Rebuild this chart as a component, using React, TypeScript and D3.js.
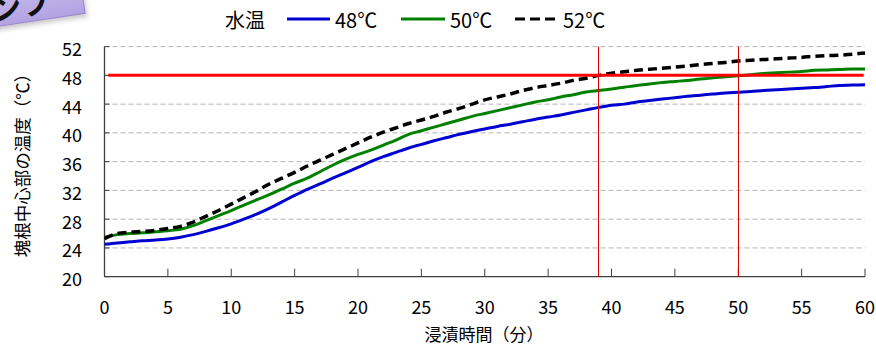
import React, { useEffect } from "react";
import * as d3 from "d3";

const minutes: number[] = d3.range(0, 61);
const xTicks: number[] = [0, 5, 10, 15, 20, 25, 30, 35, 40, 45, 50, 55, 60];
const yTicks: number[] = [20, 24, 28, 32, 36, 40, 44, 48, 52];

const s48: number[] = [
  24.5, 24.7, 24.85, 25.0, 25.1, 25.25, 25.5, 25.85, 26.3, 26.8,
  27.35, 28.0, 28.7, 29.5, 30.4, 31.3, 32.15, 32.9, 33.7, 34.45,
  35.2, 36.0, 36.7, 37.3, 37.9, 38.4, 38.9, 39.35, 39.8, 40.2,
  40.55, 40.9, 41.2, 41.55, 41.9, 42.2, 42.5, 42.85, 43.2, 43.55,
  43.85, 44.0, 44.3, 44.5, 44.7, 44.9, 45.1, 45.25, 45.4, 45.55,
  45.65, 45.75, 45.9, 46.0, 46.1, 46.2, 46.3, 46.45, 46.6, 46.65, 46.7,
];
const s50: number[] = [
  25.5, 25.85, 26.0, 26.1, 26.25, 26.4, 26.6, 27.1, 27.8, 28.5,
  29.2, 29.95, 30.7, 31.4, 32.2, 33.0, 33.7, 34.6, 35.5, 36.3,
  37.0, 37.6, 38.3, 39.0, 39.8, 40.3, 40.8, 41.3, 41.8, 42.3,
  42.7, 43.1, 43.5, 43.9, 44.3, 44.6, 45.0, 45.3, 45.7, 45.9,
  46.1, 46.35, 46.6, 46.8, 47.0, 47.15, 47.3, 47.5, 47.65, 47.8,
  47.95, 48.1, 48.25, 48.35, 48.45, 48.55, 48.7, 48.75, 48.8, 48.9, 48.9,
];
const s52: number[] = [
  25.3, 26.0, 26.2, 26.3, 26.45, 26.7, 27.0, 27.6, 28.4, 29.2,
  30.1, 31.0, 31.9, 32.9, 33.7, 34.5, 35.4, 36.2, 37.0, 37.8,
  38.6, 39.4, 40.1, 40.7, 41.3, 41.8, 42.3, 42.9, 43.4, 44.0,
  44.6, 45.0, 45.4, 45.9, 46.3, 46.6, 46.9, 47.3, 47.6, 48.0,
  48.3, 48.5, 48.7, 48.85, 49.0, 49.15, 49.3, 49.5, 49.65, 49.8,
  50.0, 50.1, 50.2, 50.3, 50.4, 50.5, 50.65, 50.75, 50.8, 50.95, 51.1,
];

const thresholdTemp = 48;
const markerTimes: number[] = [38.9, 50];

const seriesNames: string[] = ["48℃", "50℃", "52℃"];
const seriesColors: string[] = ["#0000d0", "#008000", "#000000"];
const seriesData: number[][] = [s48, s50, s52];

const W = 876;
const H = 351;
const FONT = "'Noto Sans CJK JP', 'Noto Sans', sans-serif";

export default function App() {
  useEffect(() => {
    document.body.style.margin = "0";
    document.body.style.overflow = "hidden";
  }, []);

  const x = d3.scaleLinear().domain([0, 60]).range([104.5, 865]);
  const y = d3.scaleLinear().domain([20, 52]).range([276.7, 46.6]);

  const line = d3
    .line<number>()
    .x((_, i) => x(minutes[i]))
    .y((d) => y(d))
    .curve(d3.curveMonotoneX);

  const legendItems = [
    { x1: 287, x2: 330, tx: 335 },
    { x1: 401, x2: 445, tx: 450 },
    { x1: 515, x2: 556, tx: 563 },
  ];

  return (
    <svg width={W} height={H} style={{ display: "block", fontFamily: FONT }}>
      <defs>
        <linearGradient id="boxg" x1="0" y1="0" x2="0" y2="1">
          <stop offset="0" stopColor="#d6cbf2" />
          <stop offset="1" stopColor="#b3a2e2" />
        </linearGradient>
        <filter id="shadow" x="-20%" y="-20%" width="140%" height="160%">
          <feGaussianBlur stdDeviation="2.5" />
        </filter>
      </defs>
      <rect width={W} height={H} fill="#ffffff" />

      {/* decorative callout box (partially visible) */}
      <g transform="translate(0,26) rotate(-8.6)">
        <rect x={-30} y={-58} width={118} height={62} fill="#888" opacity={0.45} filter="url(#shadow)" />
        <rect x={-30} y={-60} width={116} height={60} fill="url(#boxg)" stroke="#9c88d4" strokeWidth={1.2} />
        <text x={-6} y={-6} fontSize={30} fontWeight={700} fill="#111">ンフ</text>
      </g>

      {/* gridlines */}
      {yTicks
        .filter((t) => t > 20)
        .map((t) => (
          <line
            key={"g" + t}
            x1={x(0)}
            x2={x(60)}
            y1={y(t)}
            y2={y(t)}
            stroke="#b4b4b4"
            strokeWidth={1}
            strokeDasharray="5,3"
          />
        ))}

      {/* y ticks */}
      {yTicks.map((t) => (
        <line key={"yt" + t} x1={x(0)} x2={x(0) + 5} y1={y(t)} y2={y(t)} stroke="#404040" strokeWidth={1} />
      ))}
      {/* x ticks */}
      {xTicks.map((t) => (
        <line key={"xt" + t} x1={x(t)} x2={x(t)} y1={y(20)} y2={y(20) - 8} stroke="#404040" strokeWidth={1} />
      ))}

      {/* axes */}
      <line x1={x(0)} x2={x(0)} y1={y(52)} y2={y(20)} stroke="#404040" strokeWidth={1.3} />
      <line x1={x(0)} x2={x(60)} y1={y(20)} y2={y(20)} stroke="#404040" strokeWidth={1.3} />

      {/* series */}
      {seriesData.map((d, i) => (
        <path
          key={"s" + i}
          d={line(d) || ""}
          fill="none"
          stroke={seriesColors[i]}
          strokeWidth={i === 2 ? 3.5 : 3}
          strokeDasharray={i === 2 ? "9,5" : undefined}
          strokeLinejoin="round"
        />
      ))}

      {/* threshold line */}
      <line x1={x(0.3)} x2={x(59.9)} y1={y(thresholdTemp)} y2={y(thresholdTemp)} stroke="#ff0000" strokeWidth={3} />
      {markerTimes.map((t) => {
        const px = Math.round(x(t)) + 0.5;
        return (
          <line key={"m" + t} x1={px} x2={px} y1={y(52)} y2={y(20)} stroke="#e00000" strokeWidth={1} />
        );
      })}

      {/* y tick labels */}
      {yTicks.map((t) => (
        <text key={"yl" + t} x={82} y={y(t) + 1.5} fontSize={18} textAnchor="end" dominantBaseline="central" fill="#000">
          {t}
        </text>
      ))}
      {/* x tick labels */}
      {xTicks.map((t) => (
        <text key={"xl" + t} x={x(t)} y={306} fontSize={18} textAnchor="middle" dominantBaseline="central" fill="#000">
          {t}
        </text>
      ))}

      {/* axis titles */}
      <text
        transform="translate(21,161) rotate(-90)"
        fontSize={17.5}
        textAnchor="middle"
        dominantBaseline="central"
        fill="#000"
      >
        塊根中心部の温度（℃）
      </text>
      <text x={484} y={333} fontSize={17} textAnchor="middle" dominantBaseline="central" fill="#000">
        浸漬時間（分）
      </text>

      {/* legend */}
      <text x={225} y={19} fontSize={20} dominantBaseline="central" fill="#000">
        水温
      </text>
      {legendItems.map((it, i) => (
        <g key={"lg" + i}>
          <line
            x1={it.x1}
            x2={it.x2}
            y1={19}
            y2={19}
            stroke={seriesColors[i]}
            strokeWidth={3}
            strokeDasharray={i === 2 ? "10,5" : undefined}
          />
          <text x={it.tx} y={19} fontSize={20} dominantBaseline="central" fill="#000">
            {seriesNames[i]}
          </text>
        </g>
      ))}
    </svg>
  );
}
